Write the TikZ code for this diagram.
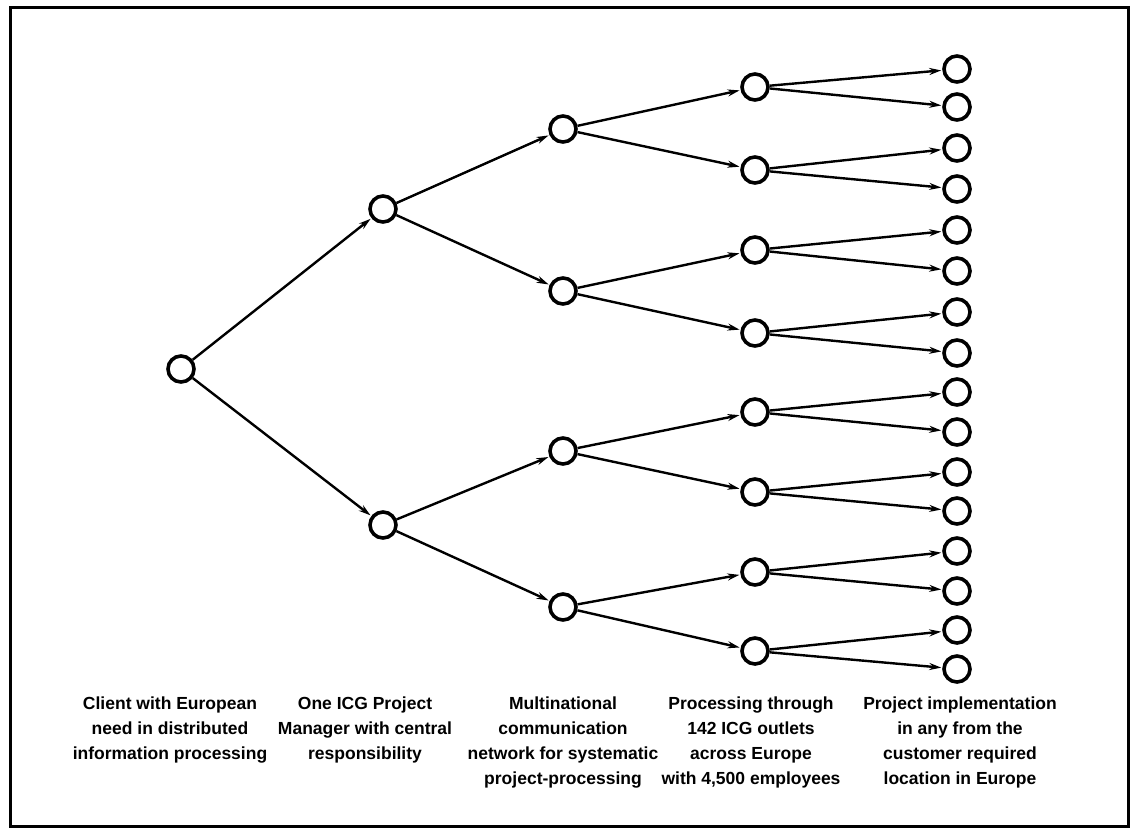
\documentclass[tikz,border=0pt]{standalone}
\usepackage{fontspec}
\setmainfont{Liberation Sans}
\usetikzlibrary{arrows.meta}
\begin{document}
\begin{tikzpicture}[x=1pt,y=-1pt,
  dot/.style={circle,draw,line width=3.6pt,minimum size=26pt,inner sep=0pt},
  arr/.style={line width=2.4pt,-{Stealth[length=12pt,width=7pt]},shorten >=1pt},
  lbl/.style={anchor=north,align=center,font=\fontsize{17.5}{25}\selectfont\bfseries,inner sep=0pt}]
\useasboundingbox (0,0) rectangle (1131,830);
\draw[line width=3pt] (10,7) rectangle (1128,826);
\node[dot] (a) at (181,369) {};
\foreach \y [count=\i] in {209,525} \node[dot] (b\i) at (383,\y) {};
\foreach \y [count=\i] in {129,291,451,607} \node[dot] (c\i) at (563,\y) {};
\foreach \y [count=\i] in {87,170,250,333,412,492,572,651} \node[dot] (d\i) at (755,\y) {};
\foreach \y [count=\i] in {69,107,148,189,230,271,312,353,392,432,472,511,551,591,630,669} \node[dot] (e\i) at (957,\y) {};
\foreach \i in {1,2} \draw[arr] (a) -- (b\i);
\foreach \i in {1,...,4} {\pgfmathtruncatemacro\p{(\i+1)/2} \draw[arr] (b\p) -- (c\i);}
\foreach \i in {1,...,8} {\pgfmathtruncatemacro\p{(\i+1)/2} \draw[arr] (c\p) -- (d\i);}
\foreach \i in {1,...,16} {\pgfmathtruncatemacro\p{(\i+1)/2} \draw[arr] (d\p) -- (e\i);}
\node[lbl] (t1) at (170,697) {Client with European\\need in distributed\\information processing};
\node[lbl] (t2) at (365,697) {One ICG Project\\Manager with central\\responsibility};
\node[lbl] (t3) at (563,697) {Multinational\\communication\\network for systematic\\project-processing};
\node[lbl] (t4) at (751,697) {Processing through\\142 ICG outlets\\across Europe\\with 4,500 employees};
\node[lbl] (t5) at (960,697) {Project implementation\\in any from the\\customer required\\location in Europe};
\end{tikzpicture}
\end{document}
